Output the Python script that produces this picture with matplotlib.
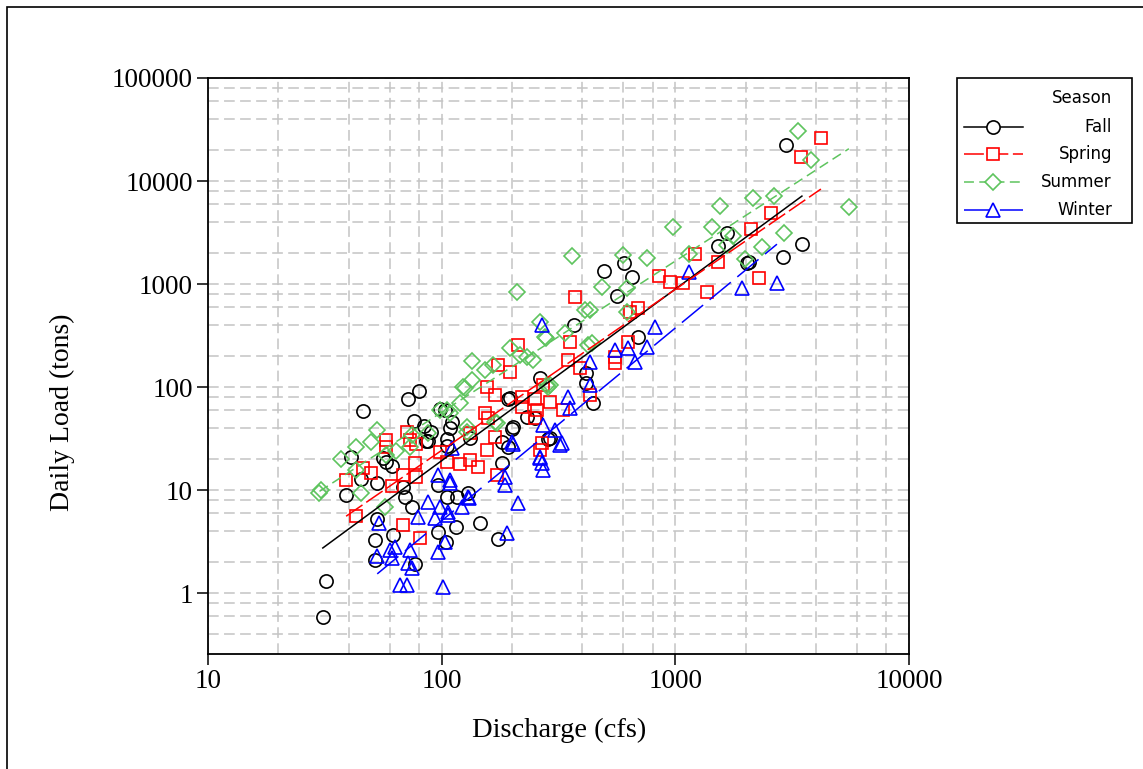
import numpy as np
import matplotlib
matplotlib.use("Agg")
import matplotlib.pyplot as plt
from matplotlib.lines import Line2D
from matplotlib.patches import Rectangle
from matplotlib.ticker import FixedLocator, LogLocator, NullFormatter, FixedFormatter

# ---- observations: discharge (cfs) and daily load (tons), by season ----
fall_q = [31, 32, 39, 41, 46, 45, 53, 53, 52, 52, 56, 58, 61, 62, 68, 70, 75, 72,
          80, 76, 84, 90, 87, 98, 109, 105, 77, 96, 105, 116, 115, 104, 96, 130,
          146, 174, 181, 192, 200, 192, 264, 251, 291, 196, 232, 202, 285, 368,
          414, 414, 444, 494, 603, 652, 562, 692, 2024, 2974, 1663, 1521, 2065,
          3481, 2886, 132, 103, 111, 181, 86, 105]
fall_load = [0.58, 1.31, 8.9, 20.9, 58.5, 12.8, 11.7, 5.2, 3.3, 2.1, 20.5, 18.7,
             17.1, 3.7, 10.7, 8.5, 6.8, 76, 91, 47, 42, 37, 30, 61, 40, 31, 1.9,
             11.2, 8.5, 8.5, 4.4, 3.1, 3.9, 9.35, 4.8, 3.35, 18.3, 26, 39, 76,
             122, 50, 32, 78, 51, 41, 31, 400, 137, 109, 70, 1340, 1600, 1170,
             764, 305, 1600, 22400, 3130, 2340, 1640, 2440, 1830, 32, 60, 46, 29,
             30, 27]

spring_q = [43, 39, 46, 50, 58, 71, 73, 77, 78, 68, 61, 68, 81, 98, 105, 120, 132,
            143, 156, 169, 158, 169, 156, 173, 221, 251, 256, 291, 269, 264, 372,
            851, 948, 1078, 1365, 1213, 692, 640, 354, 347, 391, 627, 552, 552,
            271, 212, 196, 330, 251, 431, 4198, 3446, 2566, 2105, 1521, 2278,
            174, 153, 132, 221, 58, 78]
spring_load = [5.6, 12.5, 16.4, 14.6, 30.6, 36.6, 30.6, 18.3, 13.4, 14, 10.9, 4.6,
               3.4, 23.4, 18.7, 17.9, 19.6, 16.7, 24.4, 32.7, 50, 84, 100, 14, 80,
               76, 60, 71, 28.6, 24.4, 748, 1200, 1045, 1020, 836, 1950, 585, 535,
               274, 183, 153, 274, 196, 171, 104, 256, 140, 60, 50, 84, 26100,
               17100, 4890, 3420, 1640, 1140, 164, 56, 36, 64, 26, 28]

summer_q = [30, 30.5, 37, 43, 53, 45, 57, 64, 75, 87, 98, 109, 123, 169, 285, 128,
            135, 264, 279, 410, 440, 196, 216, 246, 166, 153, 135, 126, 120, 105,
            128, 173, 282, 361, 597, 755, 210, 485, 621, 431, 621, 423, 277, 337,
            232, 291, 3349, 3805, 5530, 2642, 2147, 1552, 1434, 1763, 1663, 2916,
            2347, 1986, 977, 1143, 50, 43, 58, 73]
summer_load = [9.35, 10, 20, 26, 38, 9.35, 6.8, 24, 34, 36, 60, 56, 100, 46, 100,
               37, 179, 428, 299, 560, 267, 239, 205, 183, 164, 146, 117, 98, 70,
               60, 41, 45, 104, 1870, 1910, 1790, 836, 935, 914, 560, 535, 256,
               305, 334, 196, 104, 30500, 16000, 5590, 7140, 6830, 5720, 3570,
               2920, 2390, 3130, 2290, 1750, 3570, 1950, 29, 15.6, 22, 26]

winter_q = [54, 53, 60, 63, 61, 73, 72, 75, 66, 71, 101, 96, 103, 79, 87, 94, 96,
            109, 98, 106, 111, 109, 130, 122, 212, 190, 187, 187, 200, 264, 269,
            271, 271, 305, 202, 321, 264, 269, 431, 431, 552, 627, 755, 671, 818,
            1143, 1927, 2722, 347, 354, 327, 131, 106]
winter_load = [4.8, 2.3, 2.6, 2.8, 2.2, 2.6, 1.95, 1.75, 1.2, 1.2, 1.14, 2.5, 3.1,
               5.5, 7.6, 5.35, 14, 11.7, 6.8, 6.1, 25.6, 12.5, 8.55, 6.8, 7.5, 3.8,
               11.2, 13.4, 29, 21, 18.3, 15.6, 43, 38, 28, 27.4, 20.5, 400, 175,
               104, 229, 239, 244, 175, 383, 1310, 914, 1020, 80, 63, 28.6, 8.4,
               5.7]

# log10(load) = intercept + slope * log10(q), one fit per season
fit_intercept = [-2.047, -1.741, -1.181, -3.040]
fit_slope = [1.666, 1.563, 1.468, 1.871]

seasons = ["Fall", "Spring", "Summer", "Winter"]
x_ticks = [10, 100, 1000, 10000]
y_ticks = [1, 10, 100, 1000, 10000, 100000]

# ---- styling ----
colors = ["#000000", "#ff0000", "#5ec45e", "#0000ff"]
markers = ["o", "s", "D", "^"]
msizes = [9.5, 8.5, 8.0, 9.5]
dashes = ["-", (0, (13, 3)), (0, (6.5, 3.5)), (0, (18, 5.5))]
serif = "Liberation Serif"

W, H = 1143, 769
fig = plt.figure(figsize=(W / 100, H / 100), dpi=100)
fig.patch.set_facecolor("white")

# outer frame (runs past the right and bottom edges)
fig.add_artist(Rectangle((7 / W, -0.05), 1.2, 1 - 7 / H + 0.05,
                         transform=fig.transFigure, fill=False,
                         edgecolor="black", linewidth=1.2))

ax = fig.add_axes([208 / W, 1 - 654 / H, (909 - 208) / W, (654 - 78) / H])
ax.set_xscale("log")
ax.set_yscale("log")
ax.set_xlim(10, 10000)
ax.set_ylim(0.256, 100000)

ax.xaxis.set_major_locator(FixedLocator(x_ticks))
ax.xaxis.set_major_formatter(FixedFormatter([str(v) for v in x_ticks]))
ax.yaxis.set_major_locator(FixedLocator(y_ticks))
ax.yaxis.set_major_formatter(FixedFormatter([str(v) for v in y_ticks]))
for axis in (ax.xaxis, ax.yaxis):
    axis.set_minor_locator(LogLocator(base=10, subs=(2, 4, 6, 8)))
    axis.set_minor_formatter(NullFormatter())

ax.tick_params(which="major", direction="out", length=8, width=1.1,
               labelsize=19.5, pad=3)
ax.tick_params(which="minor", length=0)
for lab in ax.get_xticklabels() + ax.get_yticklabels():
    lab.set_family(serif)
for s in ax.spines.values():
    s.set_linewidth(1.3)

ax.set_axisbelow(True)
ax.grid(which="both", color="#c4c4c4", linestyle=(0, (7, 3.5)), linewidth=1.1)

series = [(fall_q, fall_load), (spring_q, spring_load),
          (summer_q, summer_load), (winter_q, winter_load)]

for i, (q, load) in enumerate(series):
    ax.plot(q, load, linestyle="none", marker=markers[i], markersize=msizes[i],
            markerfacecolor="none", markeredgecolor=colors[i],
            markeredgewidth=1.2, zorder=3)

for i, (q, load) in enumerate(series):
    qq = np.array([min(q), max(q)], dtype=float)
    fit = 10 ** (fit_intercept[i] + fit_slope[i] * np.log10(qq))
    ax.plot(qq, fit, color=colors[i], linestyle=dashes[i], linewidth=1.1,
            zorder=4)

fig.text(559 / W, 1 - 730 / H, "Discharge (cfs)", ha="center", va="center",
         fontsize=20.5, family=serif)
fig.text(62 / W, 1 - 412 / H, "Daily Load (tons)", ha="center", va="center",
         rotation=90, fontsize=20, family=serif)

# ---- legend box ----
fig.add_artist(Rectangle((957 / W, 1 - 223 / H), 175 / W, 145 / H,
                         transform=fig.transFigure, fill=False,
                         edgecolor="black", linewidth=1.2))
lf = "DejaVu Sans"
fig.text(1112 / W, 1 - 98 / H, "Season", ha="right", va="center",
         fontsize=12, family=lf)
row_y = [127, 154, 182, 210]
for i, name in enumerate(seasons):
    yy = 1 - row_y[i] / H
    fig.add_artist(Line2D([964 / W, 1023 / W], [yy, yy],
                          transform=fig.transFigure, color=colors[i],
                          linestyle=dashes[i], linewidth=1.1))
    fig.add_artist(Line2D([993 / W], [yy], transform=fig.transFigure,
                          marker=markers[i], markersize=msizes[i],
                          markerfacecolor="white", markeredgecolor=colors[i],
                          markeredgewidth=1.2, linestyle="none"))
    fig.text(1112 / W, yy, name, ha="right", va="center", fontsize=12,
             family=lf)

fig.savefig("out.png", dpi=100, facecolor="white")
